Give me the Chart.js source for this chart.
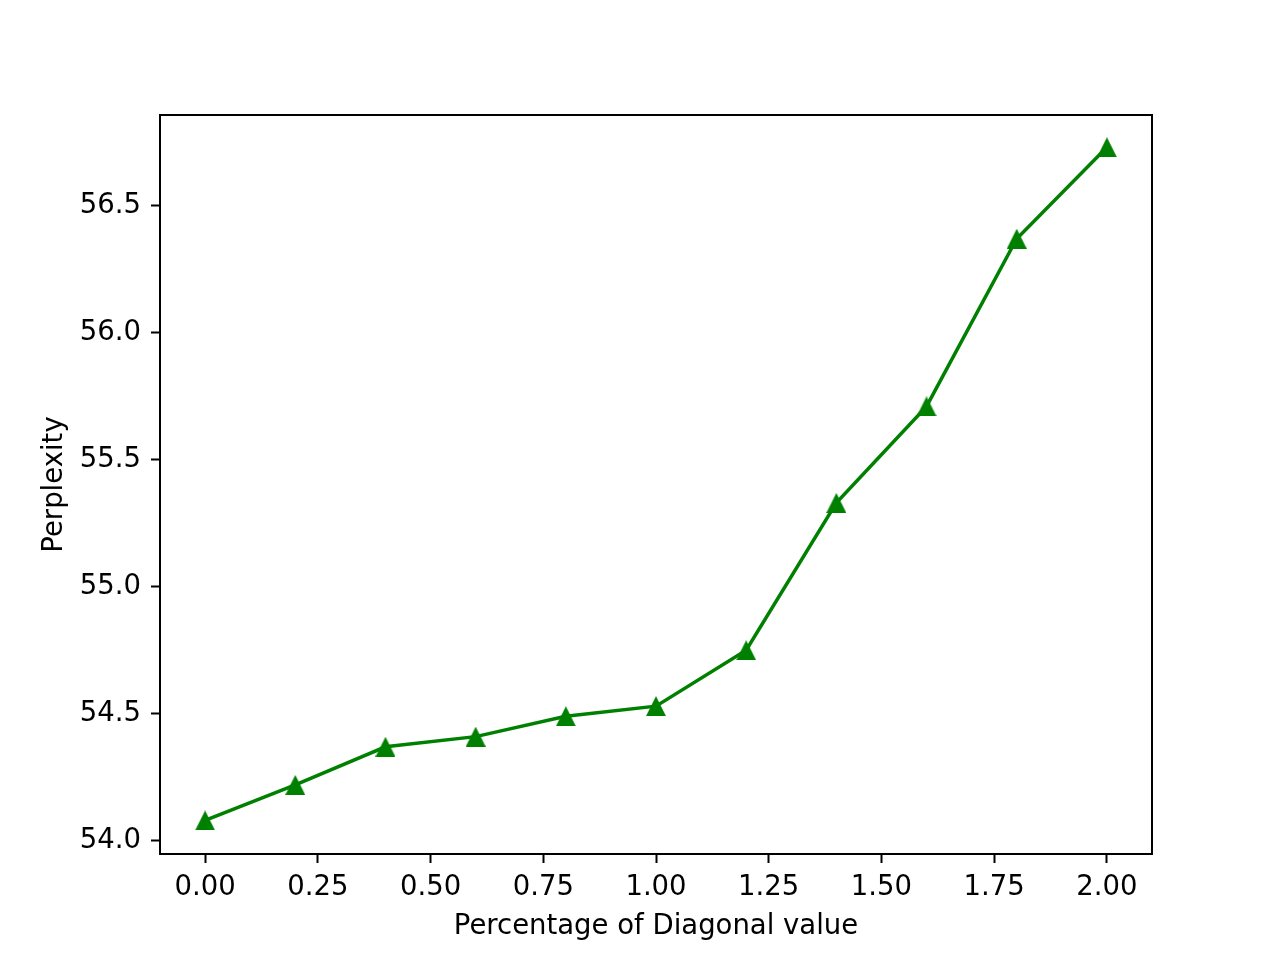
<!DOCTYPE html>
<html>
<head>
<meta charset="utf-8">
<script src="https://cdn.jsdelivr.net/npm/chart.js@4"></script>
<style>
  html, body { margin: 0; padding: 0; background: #fff; }
  #box { width: 1280px; height: 960px; }
</style>
</head>
<body>
<div id="box"><canvas id="grafico" width="1280" height="960"></canvas></div>
<script>
// dados
const diagonalPct = [0.0, 0.2, 0.4, 0.6, 0.8, 1.0, 1.2, 1.4, 1.6, 1.8, 2.0];
const perplexity = [54.08, 54.22, 54.37, 54.41, 54.49, 54.53, 54.75, 55.33, 55.71, 56.37, 56.73];
const xTicks = [0, 0.25, 0.5, 0.75, 1.0, 1.25, 1.5, 1.75, 2.0];
const yTicks = [54.0, 54.5, 55.0, 55.5, 56.0, 56.5];

const fonte = "'DejaVu Sans', sans-serif";
const verde = '#008000';

// marcador triângulo centrado na caixa (como o '^' do matplotlib)
function criaTriangulo(lado) {
    const c = document.createElement('canvas');
    c.width = lado;
    c.height = lado;
    const g = c.getContext('2d');
    g.fillStyle = verde;
    g.beginPath();
    g.moveTo(lado / 2, 0);
    g.lineTo(lado, lado);
    g.lineTo(0, lado);
    g.closePath();
    g.fill();
    return c;
}
const triangulo = criaTriangulo(20);

// moldura completa em volta da área do gráfico
const moldura = {
    id: 'moldura',
    afterDraw(chart) {
        const a = chart.chartArea;
        const ctx = chart.ctx;
        ctx.save();
        ctx.strokeStyle = '#000';
        ctx.lineWidth = 2;
        ctx.strokeRect(a.left, a.top, a.right - a.left, a.bottom - a.top);
        ctx.restore();
    }
};

const ctx = document.getElementById('grafico').getContext('2d');
new Chart(ctx, {
    type: 'line',
    data: {
        datasets: [{
            label: 'Perplexity',
            data: diagonalPct.map((x, i) => ({ x: x, y: perplexity[i] })),
            borderColor: verde,
            backgroundColor: verde,
            borderWidth: 3.5,
            tension: 0,
            fill: false,
            pointStyle: triangulo,
            pointRadius: 10,
            pointHoverRadius: 10,
            pointBorderWidth: 0
        }]
    },
    options: {
        responsive: false,
        animation: false,
        layout: { padding: { top: 115, right: 128, left: 0, bottom: 0 } },
        plugins: {
            legend: { display: false },
            tooltip: { enabled: false }
        },
        scales: {
            x: {
                type: 'linear',
                min: -0.1,
                max: 2.1,
                afterBuildTicks: axis => { axis.ticks = xTicks.map(v => ({ value: v })); },
                afterFit: axis => { axis.height = 106; },
                ticks: {
                    callback: v => v.toFixed(2),
                    font: { family: fonte, size: 27.5 },
                    color: '#000',
                    padding: 8,
                    maxRotation: 0,
                    autoSkip: false
                },
                grid: {
                    drawOnChartArea: false,
                    drawTicks: true,
                    tickLength: 9,
                    tickColor: '#000',
                    tickWidth: 2
                },
                border: { display: true, color: '#000', width: 2 },
                title: {
                    display: true,
                    text: 'Percentage of Diagonal value',
                    font: { family: fonte, size: 27.5 },
                    color: '#000',
                    padding: { top: 0, bottom: 17 }
                }
            },
            y: {
                min: 53.948,
                max: 56.857,
                afterBuildTicks: axis => { axis.ticks = yTicks.map(v => ({ value: v })); },
                afterFit: axis => { axis.width = 160; },
                ticks: {
                    callback: v => v.toFixed(1),
                    font: { family: fonte, size: 27.5 },
                    color: '#000',
                    padding: 10
                },
                grid: {
                    drawOnChartArea: false,
                    drawTicks: true,
                    tickLength: 9,
                    tickColor: '#000',
                    tickWidth: 2
                },
                border: { display: true, color: '#000', width: 2 },
                title: {
                    display: true,
                    text: 'Perplexity',
                    font: { family: fonte, size: 27.5 },
                    color: '#000',
                    padding: { top: 38, bottom: 0 }
                }
            }
        }
    },
    plugins: [moldura]
});
</script>
</body>
</html>
